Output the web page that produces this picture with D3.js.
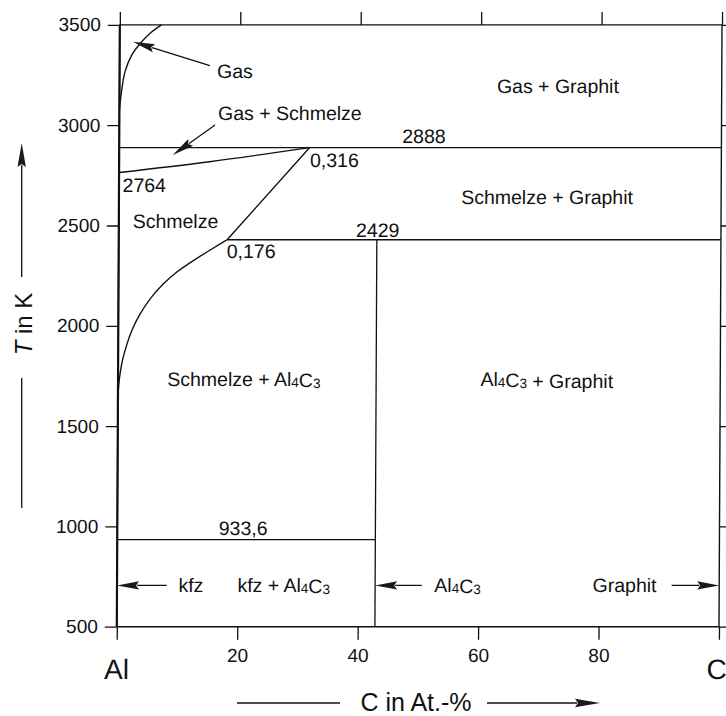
<!DOCTYPE html>
<html>
<head>
<meta charset="utf-8">
<script src="https://cdn.jsdelivr.net/npm/d3@7"></script>
<style>
  body { margin: 0; background: #fff; }
  text { font-family: "Liberation Sans", Arial, sans-serif; fill: #111; }
</style>
</head>
<body>
<div id="chart"></div>
<script>
// ---- data (C in At.-%, T in K) ----
var tickT = [500, 1000, 1500, 2000, 2500, 3000, 3500];
var tickC = [0, 20, 40, 60, 80, 100];

// gas / liquid boundary near pure Al (top left)
var gasCurve = [[0, 3080], [0.37, 3175], [0.9, 3266], [2.0, 3349], [3.4, 3407], [5.0, 3457], [6.9, 3500]];
// liquidus Schmelze / Schmelze + Al4C3
var liquidus = [[0, 1580], [0, 1650], [0.1, 1705], [0.32, 1763], [0.7, 1830], [1.3, 1896], [2.2, 1979],
  [3.6, 2062], [5.25, 2137], [7.4, 2210], [9.65, 2270], [12.4, 2326], [15.2, 2378], [18.0, 2429]];
// liquidus Schmelze / Schmelze + Graphit
var liquidusGraphit = [[18.0, 2429], [31.6, 2888]];
// Gas + Schmelze lower boundary
var gasLiquid = [[0, 2764], [15, 2818], [31.6, 2888]];

// invariant lines
var isoT = [2888, 2429, 933.6];
var isoFrom = [0, 18.0, 0];
var isoTo = [100, 100, 42.86];
var al4c3C = 42.86;

var labels = [
  { t: "Gas", c: 16.2, T: 3235, a: "start" },
  { t: "Gas + Schmelze", c: 16.4, T: 3026, a: "start" },
  { t: "Gas + Graphit", c: 72.8, T: 3159, a: "middle" },
  { t: "2888", c: 50.6, T: 2910, a: "middle" },
  { t: "0,316", c: 31.7, T: 2793, a: "start" },
  { t: "Schmelze + Graphit", c: 71.1, T: 2607, a: "middle" },
  { t: "2429", c: 43.0, T: 2444, a: "middle" },
  { t: "0,176", c: 17.95, T: 2336, a: "start" },
  { t: "2764", c: 0.6, T: 2668, a: "start" },
  { t: "Schmelze", c: 2.3, T: 2486, a: "start" },
  { t: "Schmelze + Al_4C_3", c: 20.9, T: 1700, a: "middle" },
  { t: "Al_4C_3 + Graphit", c: 71.2, T: 1700, a: "middle" },
  { t: "933,6", c: 20.9, T: 957, a: "middle" },
  { t: "kfz", c: 10.2, T: 674, a: "start" },
  { t: "kfz + Al_4C_3", c: 20.0, T: 674, a: "start" },
  { t: "Al_4C_3", c: 52.7, T: 674, a: "start" },
  { t: "Graphit", c: 89.6, T: 674, a: "end" }
];

// arrows: from [C,T] -> to [C,T] (tip)
var arrows = [
  { from: [15.0, 3297], to: [2.2, 3416] },
  { from: [15.9, 3001], to: [8.9, 2851] },
  { from: [8.25, 706], to: [0, 706] },
  { from: [50.6, 706], to: [42.86, 706] },
  { from: [92.1, 706], to: [100, 706] }
];

// ---- setup ----
var width = 726;
var height = 716;
var margin = { top: 24.9, right: 7, bottom: 89.3, left: 116.8 };

var x = d3.scaleLinear().domain([0, 100]).range([margin.left, width - margin.right]);
var y = d3.scaleLinear().domain([500, 3500]).range([height - margin.bottom, margin.top]);

var svg = d3.select("#chart").append("svg")
  .attr("width", width)
  .attr("height", height);

// the scanned figure leans a little to the right at the top
var k = 0.005;
var plot = svg.append("g")
  .attr("transform", `translate(${k * (height - margin.bottom)},0) skewX(${-Math.atan(k) * 180 / Math.PI})`);

var line = d3.line().x((d) => x(d[0])).y((d) => y(d[1]));

// axes
var tickStyle = (g) => g
  .call((g) => g.select(".domain").remove())
  .call((g) => g.selectAll(".tick line").attr("stroke", "#111").attr("stroke-width", 1.3))
  .call((g) => g.selectAll(".tick text").attr("font-size", 19).attr("fill", "#111").attr("font-family", null));

plot.append("g")
  .attr("transform", `translate(${x(0)},0)`)
  .call(d3.axisLeft(y).tickValues(tickT).tickSize(12).tickPadding(7).tickFormat(d3.format("d")))
  .call(tickStyle);

plot.append("g")
  .attr("transform", `translate(${x(100)},0)`)
  .call(d3.axisRight(y).tickValues(tickT).tickSize(12).tickFormat(""))
  .call(tickStyle);

plot.append("g")
  .attr("transform", `translate(0,${y(3500)})`)
  .call(d3.axisTop(x).tickValues(tickC).tickSize(13).tickFormat(""))
  .call(tickStyle);

plot.append("g")
  .attr("transform", `translate(0,${y(500)})`)
  .call(d3.axisBottom(x).tickValues(tickC).tickSize(13).tickPadding(9)
    .tickFormat((d) => (d === 0 || d === 100 ? "" : d)))
  .call(tickStyle);

// element names at the axis ends
plot.selectAll(".elem")
  .data([[0, "Al"], [100, "C"]])
  .join("text")
  .attr("class", "elem")
  .attr("x", (d) => x(d[0]) - (d[1] === "C" ? 2 : 0))
  .attr("y", y(500) + 52)
  .attr("text-anchor", "middle")
  .attr("font-size", 28)
  .text((d) => d[1]);

// frame
plot.append("rect")
  .attr("x", x(0)).attr("y", y(3500))
  .attr("width", x(100) - x(0)).attr("height", y(500) - y(3500))
  .attr("fill", "none").attr("stroke", "#111").attr("stroke-width", 1.4);
plot.append("line")
  .attr("x1", x(0)).attr("x2", x(0)).attr("y1", y(3500)).attr("y2", y(500))
  .attr("stroke", "#111").attr("stroke-width", 2.2);

// phase boundaries
var curves = plot.append("g").attr("fill", "none").attr("stroke", "#111").attr("stroke-width", 1.4);
curves.append("path").attr("d", line.curve(d3.curveCatmullRom)(gasCurve));
curves.append("path").attr("d", line.curve(d3.curveBasis)(liquidus));
curves.append("path").attr("d", line.curve(d3.curveLinear)(liquidusGraphit));
curves.append("path").attr("d", line.curve(d3.curveCatmullRom)(gasLiquid));

curves.selectAll(".iso")
  .data(isoT)
  .join("line")
  .attr("class", "iso")
  .attr("x1", (d, i) => x(isoFrom[i]))
  .attr("x2", (d, i) => x(isoTo[i]))
  .attr("y1", (d) => y(d))
  .attr("y2", (d) => y(d))
  .attr("stroke-width", 1.3);

curves.append("line")
  .attr("x1", x(al4c3C)).attr("x2", x(al4c3C))
  .attr("y1", y(500)).attr("y2", y(2429))
  .attr("stroke-width", 1.3);

// labels (with Al4C3 subscripts)
function addLabel(g, d) {
  var t = g.append("text")
    .attr("x", x(d.c))
    .attr("y", y(d.T))
    .attr("text-anchor", d.a)
    .attr("font-size", 19.5);
  d.t.split(/(_\d)/).forEach(function (part) {
    if (!part) return;
    if (part[0] === "_") {
      t.append("tspan").attr("font-size", 13.5).attr("dy", 1).text(part[1]);
      t.append("tspan").attr("dy", -1).text("");
    } else {
      t.append("tspan").text(part);
    }
  });
}
var labelG = plot.append("g");
labels.forEach((d) => addLabel(labelG, d));

// arrows
function drawArrow(g, x1, y1, x2, y2, len, hw) {
  var dx = x2 - x1, dy = y2 - y1;
  var L = Math.sqrt(dx * dx + dy * dy);
  var ux = dx / L, uy = dy / L;
  var bx = x2 - ux * len, by = y2 - uy * len;
  g.append("line")
    .attr("x1", x1).attr("y1", y1).attr("x2", bx + ux * 2).attr("y2", by + uy * 2)
    .attr("stroke", "#111").attr("stroke-width", 1.3);
  g.append("path")
    .attr("d", `M${x2},${y2}L${bx - uy * hw},${by + ux * hw}L${bx + ux * 3},${by + uy * 3}L${bx + uy * hw},${by - ux * hw}Z`)
    .attr("fill", "#1a1a1a");
}
var arrowG = plot.append("g");
arrows.forEach((a) => drawArrow(arrowG, x(a.from[0]), y(a.from[1]), x(a.to[0]), y(a.to[1]), 22, 4.2));

// axis titles with arrows
var titles = svg.append("g");
titles.append("text")
  .attr("x", 416)
  .attr("y", 711)
  .attr("text-anchor", "middle")
  .attr("font-size", 25)
  .text("C in At.-%");
titles.append("line")
  .attr("x1", 237).attr("x2", 340).attr("y1", 703).attr("y2", 703)
  .attr("stroke", "#111").attr("stroke-width", 1.3);
drawArrow(titles, 487, 703, 600, 703, 25, 4.2);

var yt = titles.append("text")
  .attr("transform", "translate(32,324) rotate(-90)")
  .attr("text-anchor", "middle")
  .attr("font-size", 24);
yt.append("tspan").attr("font-style", "italic").text("T");
yt.append("tspan").text(" in K");
drawArrow(titles, 21.7, 277, 21.7, 143, 24, 4.2);
titles.append("line")
  .attr("x1", 21.7).attr("x2", 21.7).attr("y1", 378).attr("y2", 508)
  .attr("stroke", "#111").attr("stroke-width", 1.3);
</script>
</body>
</html>
